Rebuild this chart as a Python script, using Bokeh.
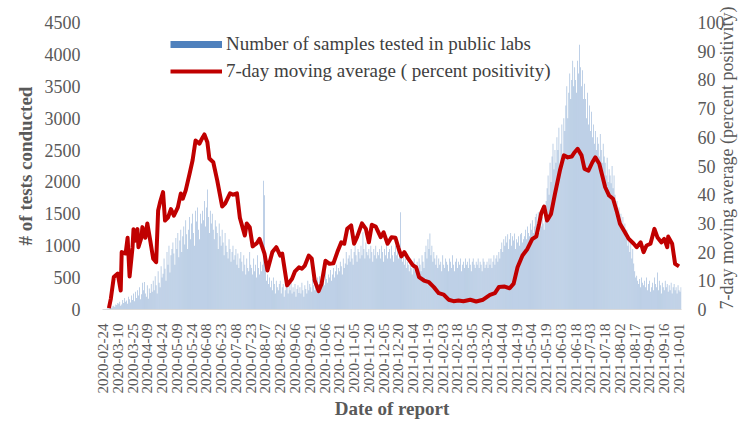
import math
import numpy as np
import pandas as pd
from bokeh.plotting import figure
from bokeh.models import Range1d, LinearAxis, FixedTicker, Legend, LegendItem
from bokeh.embed import file_html
from bokeh.resources import INLINE

# ---------------- data ----------------
start_date = "2020-02-24"

tick_labels = [
    "2020-02-24", "2020-03-10", "2020-03-25", "2020-04-09", "2020-04-24",
    "2020-05-09", "2020-05-24", "2020-06-08", "2020-06-23", "2020-07-08",
    "2020-07-23", "2020-08-07", "2020-08-22", "2020-09-06", "2020-09-21",
    "2020-10-06", "2020-10-21", "2020-11-05", "2020-11-20", "2020-12-05",
    "2020-12-20", "2021-01-04", "2021-01-19", "2021-02-03", "2021-02-18",
    "2021-03-05", "2021-03-20", "2021-04-04", "2021-04-19", "2021-05-04",
    "2021-05-19", "2021-06-03", "2021-06-18", "2021-07-03", "2021-07-18",
    "2021-08-02", "2021-08-17", "2021-09-01", "2021-09-16", "2021-10-01",
]

# daily number of samples tested in public labs (from 2020-02-24)
tests = [
    0, 0, 0, 5, 10, 20, 15, 30, 40, 25,
    50, 60, 40, 80, 70, 100, 90, 120, 60, 80,
    150, 100, 180, 120, 140, 90, 200, 160, 110, 220,
    150, 250, 130, 280, 180, 300, 220, 350, 160, 240,
    420, 300, 430, 250, 200, 380, 170, 330, 260, 400,
    280, 450, 300, 520, 380, 250, 600, 420, 350, 680,
    500, 560, 800, 640, 450, 900, 700, 1000, 580, 850,
    950, 1050, 880, 700, 1120, 950, 1200, 820, 1080, 1250,
    900, 1150, 1300, 1020, 1400, 1180, 950, 1250, 1450, 1100,
    1350, 1500, 1200, 1000, 1550, 1380, 1600, 1250, 1100, 1500,
    1350, 1550, 1400, 1700, 1300, 1600, 1880, 1450, 1200, 1550,
    1350, 1500, 1250, 1100, 1400, 1300, 1200, 950, 1350, 1150,
    1000, 1250, 1050, 850, 1200, 1000, 900, 800, 1100, 950,
    750, 900, 1000, 780, 850, 950, 700, 880, 650, 800,
    900, 750, 600, 850, 700, 550, 800, 650, 600, 900,
    700, 650, 550, 800, 600, 700, 500, 850, 650, 550,
    750, 600, 700, 2020, 1790, 650, 450, 550, 400, 500,
    350, 450, 300, 500, 400, 250, 450, 350, 300, 400,
    450, 250, 350, 400, 200, 300, 450, 350, 250, 380,
    300, 420, 250, 350, 280, 400, 200, 320, 380, 260,
    350, 250, 420, 300, 200, 380, 320, 250, 450, 300,
    400, 350, 280, 480, 380, 300, 450, 350, 500, 400,
    520, 420, 350, 550, 450, 380, 600, 480, 420, 550,
    500, 620, 450, 550, 650, 500, 600, 700, 550, 650,
    600, 750, 680, 550, 800, 650, 720, 900, 700, 800,
    850, 750, 950, 800, 700, 900, 1000, 850, 750, 950,
    900, 800, 1000, 850, 1210, 950, 800, 1050, 900, 850,
    950, 800, 1000, 900, 750, 950, 850, 1000, 800, 900,
    850, 950, 800, 1000, 900, 750, 950, 850, 1050, 800,
    900, 950, 800, 1000, 850, 750, 900, 1000, 850, 950,
    800, 1000, 1525, 900, 750, 850, 700, 800, 650, 750,
    700, 600, 750, 650, 550, 700, 800, 600, 650, 750,
    650, 800, 700, 600, 850, 750, 650, 900, 1000, 800,
    1100, 950, 1190, 850, 1000, 750, 900, 800, 700, 850,
    650, 800, 700, 750, 600, 850, 700, 650, 800, 750,
    700, 600, 800, 750, 650, 850, 700, 600, 750, 800,
    650, 750, 700, 800, 600, 700, 750, 650, 800, 700,
    750, 650, 800, 700, 600, 750, 800, 700, 650, 750,
    700, 800, 650, 750, 700, 600, 800, 750, 650, 700,
    750, 650, 800, 700, 800, 650, 750, 850, 700, 800,
    850, 750, 900, 800, 950, 1050, 900, 1100, 1000, 1150,
    1050, 1180, 950, 1100, 1200, 1000, 1150, 1080, 1190, 950,
    1100, 1050, 1150, 1000, 1180, 1200, 1050, 1100, 1150, 1250,
    1100, 1300, 1200, 1150, 1350, 1250, 1400, 1200, 1300, 1450,
    1500, 1350, 1525, 1200, 1400, 1300, 1450, 1350, 1250, 1500,
    1700, 1900, 2100, 1800, 2300, 2000, 2400, 2600, 2200, 2500,
    2300, 2700, 2500, 2850, 2200, 2600, 2900, 2400, 3000, 2800,
    3200, 3500, 3000, 3400, 3700, 3300, 3600, 3900, 3500, 3800,
    3600, 3400, 3900, 3700, 4150, 3800, 3500, 3750, 3300, 3540,
    3300, 3000, 3400, 2900, 3200, 2800, 3100, 2700, 2900, 2600,
    2800, 2500, 2700, 2600, 2400, 2750, 2500, 2300, 2600, 2400,
    2300, 2100, 2380, 2000, 2200, 2100, 1980, 2250, 1900, 2100,
    1800, 1550, 1700, 1400, 1600, 1300, 1500, 1250, 1450, 1200,
    1350, 1130, 1250, 1000, 1100, 900, 1050, 800, 950, 720,
    600, 500, 530, 450, 400, 480, 350, 500, 420, 380,
    450, 350, 500, 300, 400, 450, 280, 350, 420, 300,
    500, 400, 350, 580, 300, 450, 380, 250, 420, 350,
    300, 450, 350, 400, 280, 380, 300, 420, 250, 350,
    400, 300, 350, 250, 380, 300, 280, 350,
]

# 7-day moving average of percent positivity: day offset since 2020-02-24, value
pos_day = [
    6, 8, 11, 15, 18, 19, 23, 25, 27, 30, 31, 33, 35, 36, 39, 40, 43, 45, 48, 51,
    54, 56, 58, 61, 63, 66, 69, 72, 76, 79, 81, 84, 88, 91, 94, 98, 100, 103, 106, 108,
    112, 116, 121, 124, 129, 132, 136, 139, 144, 146, 149, 152, 156, 159, 164, 167, 172, 176, 180, 182,
    187, 192, 195, 199, 202, 205, 209, 212, 215, 219, 222, 226, 230, 234, 238, 242, 245, 248, 252, 255,
    258, 263, 267, 270, 273, 277, 282, 285, 289, 293, 297, 300, 303, 306, 310, 315, 318, 321, 326, 331,
    336, 341, 346, 351, 356, 361, 366, 373, 379, 386, 393, 398, 402, 408, 413, 417, 421, 426, 431, 436,
    440, 443, 445, 448, 451, 455, 459, 464, 468, 472, 476, 479, 482, 486, 489, 493, 497, 500, 504, 507,
    510, 514, 518, 522, 525, 529, 534, 539, 542, 546, 549, 552, 556, 560, 563, 567, 570, 573, 574, 578,
    581, 585,
]
pos_value = [
    0.5, 3.8, 11.3, 12.5, 6.6, 20, 19.5, 25, 11.5, 21.7, 28, 24, 28, 21.7, 25, 28.7, 25, 30, 24, 17.7,
    16.5, 34.5, 37.4, 40.9, 31, 32, 35, 32.7, 35.6, 40.4, 38.6, 41.5, 47.4, 52, 58.9, 57.8, 59.2, 61, 58.3, 52.6,
    51.3, 45, 35.9, 36.9, 40.5, 40, 40.5, 32, 25.8, 30, 28.7, 22, 23, 24.6, 19.5, 13.6, 20, 21.7, 18.8, 19.5,
    8.4, 10.7, 13.3, 14.7, 14.2, 15.3, 18.8, 17.7, 10.1, 6.4, 9, 17, 15.9, 16.1, 20, 23.4, 22.9, 28.1, 29.3, 22.9,
    25.2, 30, 28.1, 23.4, 29.5, 28.9, 25.2, 26.9, 22.9, 25.2, 25, 21.5, 18.5, 20, 17.7, 15.3, 14.7, 11.3, 10.1, 9.5,
    7.8, 5.7, 5.2, 3.4, 2.9, 3.1, 2.9, 3.4, 2.8, 3.4, 5.1, 5.7, 7.8, 8, 7.4, 9, 14.7, 18.8, 21.1, 24.6,
    25.4, 30, 33.5, 35.9, 31, 33.3, 40.3, 48.4, 53.7, 53, 53.3, 54.8, 56, 53.7, 49, 48.4, 51.3, 53, 50.8, 46.7,
    42.6, 39.7, 38.6, 33.9, 29.9, 27.5, 24.6, 22.9, 21.7, 23.4, 20, 22.3, 22.9, 28.1, 25.2, 23.4, 24.6, 21.7, 25.4, 22.9,
    15.9, 15,
]

left_ticks = list(range(0, 4501, 500))
right_ticks = list(range(0, 101, 10))

# ---------------- figure ----------------
FONT = "Liberation Serif"
GRAY = "#595959"

day = np.arange(len(tests))
tick_pos = [int((pd.Timestamp(t) - pd.Timestamp(start_date)).days) for t in tick_labels]

x0, x1 = -0.5, len(tests) - 0.5
p = figure(width=749, height=422, output_backend="svg", toolbar_location=None,
           x_range=Range1d(x0, x1), y_range=Range1d(0, 4500),
           min_border_left=102, min_border_right=57, min_border_top=22, min_border_bottom=113)
p.extra_y_ranges = {"pct": Range1d(0, 100)}
p.xgrid.visible = False
p.ygrid.visible = False
p.outline_line_color = None
p.background_fill_color = "white"
p.border_fill_color = "white"

bars = p.vbar(x=day, top=tests, width=0.75, bottom=0,
              fill_color="#4F81BD", fill_alpha=0.5, line_color=None)
swatch = p.line(x=[0, 1], y=[float("nan"), float("nan")],
                line_color="#4F81BD", line_width=7, line_cap="butt")
line = p.line(x=pos_day, y=pos_value, y_range_name="pct",
              line_color="#C00000", line_width=4, line_join="round")

# x axis
xa = p.xaxis[0]
xa.ticker = FixedTicker(ticks=tick_pos)
xa.major_label_overrides = {pos: lab for pos, lab in zip(tick_pos, tick_labels)}
xa.major_label_orientation = math.pi / 2
xa.axis_line_color = "#d9d9d9"
xa.major_tick_line_color = None
xa.minor_tick_line_color = None
xa.major_label_standoff = 8
xa.major_label_text_font = FONT
xa.major_label_text_font_size = "15px"
xa.major_label_text_color = GRAY
xa.axis_label = "Date of report"
xa.axis_label_text_font = FONT
xa.axis_label_text_font_size = "19px"
xa.axis_label_text_font_style = "bold"
xa.axis_label_text_color = GRAY
xa.axis_label_standoff = 2

# left axis
ya = p.yaxis[0]
ya.ticker = FixedTicker(ticks=left_ticks)
ya.axis_line_color = None
ya.major_tick_line_color = None
ya.minor_tick_line_color = None
ya.major_label_standoff = 16
ya.major_label_text_font = FONT
ya.major_label_text_font_size = "18px"
ya.major_label_text_color = GRAY
ya.axis_label = "# of tests conducted"
ya.axis_label_text_font = FONT
ya.axis_label_text_font_size = "19px"
ya.axis_label_text_font_style = "bold"
ya.axis_label_text_color = GRAY
ya.axis_label_standoff = 6

# right axis, title reading bottom-to-top
ra = LinearAxis(y_range_name="pct", ticker=FixedTicker(ticks=right_ticks))
ra.axis_line_color = None
ra.major_tick_line_color = None
ra.minor_tick_line_color = None
ra.major_label_standoff = 10
ra.major_label_text_font = FONT
ra.major_label_text_font_size = "18px"
ra.major_label_text_color = GRAY
ra.axis_label = "7-day moving average (percent positivity)"
ra.axis_label_text_font = FONT
ra.axis_label_text_font_size = "18px"
ra.axis_label_text_font_style = "normal"
ra.axis_label_text_color = GRAY
ra.axis_label_standoff = -1
try:
    ra.axis_label_orientation = math.pi / 2
except Exception:
    pass
try:
    ra.axis_label_align = "start"
except Exception:
    pass
p.add_layout(ra, "right")

legend = Legend(items=[
    LegendItem(label="Number of samples tested in public labs", renderers=[swatch]),
    LegendItem(label="7-day moving average ( percent positivity)", renderers=[line]),
], location=(68, 227), orientation="vertical",
    glyph_width=52, glyph_height=20, label_height=20, spacing=5,
    padding=0, margin=0, label_standoff=4,
    border_line_color=None, background_fill_alpha=0,
    label_text_font=FONT, label_text_font_size="19px", label_text_color="#404040")
p.add_layout(legend)

open("out.html", "w").write(file_html(p, INLINE))
